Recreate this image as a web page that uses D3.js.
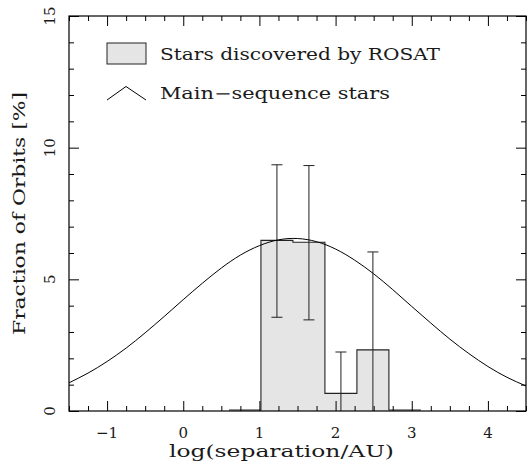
<!DOCTYPE html>
<html><head><meta charset="utf-8">
<script src="https://cdn.jsdelivr.net/npm/d3@7"></script>
<style>
html,body{margin:0;padding:0;background:#fff;}
text{font-family:"DejaVu Serif",serif;fill:#1a1a1a;}
</style></head>
<body>
<svg id="c" width="527" height="466"></svg>
<script>
// ---- data ----
const xMajorTicks = [-1, 0, 1, 2, 3, 4];
const yMajorTicks = [0, 5, 10, 15];
const binEdges = [0.60, 1.02, 1.44, 1.86, 2.28, 2.70, 3.12];
const binValues = [0, 6.48, 6.41, 0.67, 2.32, 0];
const errX = [1.23, 1.65, 2.07, 2.49];
const errHi = [9.35, 9.32, 2.24, 6.04];
const errLo = [3.56, 3.46, 0, 0];
const curveX = [-1.5,-1.25,-1,-0.75,-0.5,-0.25,0,0.25,0.5,0.75,1,1.25,1.5,1.75,2,2.25,2.5,2.75,3,3.25,3.5,3.75,4,4.25,4.5];
const curveY = [1.07,1.44,1.88,2.39,2.97,3.59,4.23,4.85,5.43,5.92,6.28,6.50,6.55,6.43,6.15,5.73,5.21,4.61,3.97,3.34,2.73,2.18,1.69,1.28,0.95];
const legendLabels = ["Stars discovered by ROSAT", "Main\u2212sequence stars"];
const xLabel = "log(separation/AU)";
const yLabel = "Fraction of Orbits [%]";

// ---- layout ----
const L = 69, R = 526, T = 16, B = 411;
const svg = d3.select("#c");
const x = d3.scaleLinear().domain([-1.5, 4.5]).range([L, R]);
const y = d3.scaleLinear().domain([0, 15]).range([B, T]);

// histogram fill
const bins = binValues.map((v, i) => ({x0: binEdges[i], x1: binEdges[i + 1], v}));
svg.append("g").selectAll("rect").data(bins.filter(d => d.v > 0)).join("rect")
  .attr("x", d => x(d.x0)).attr("width", d => x(d.x1) - x(d.x0))
  .attr("y", d => y(d.v)).attr("height", d => y(0) - y(d.v))
  .attr("fill", "#e5e5e5").attr("stroke", "none");
// histogram step outline
const step = [[binEdges[0], 0]];
bins.forEach(d => { step.push([d.x0, d.v]); step.push([d.x1, d.v]); });
step.push([binEdges[binEdges.length - 1], 0]);
svg.append("path").datum(step)
  .attr("d", d3.line().x(d => x(d[0])).y(d => Math.min(y(d[1]), y(0) - 1)))
  .attr("fill", "none").attr("stroke", "#222").attr("stroke-width", 1.1);

// error bars
const eg = svg.append("g").attr("stroke", "#222").attr("stroke-width", 1);
errX.forEach((ex, i) => {
  eg.append("line").attr("x1", x(ex)).attr("x2", x(ex)).attr("y1", y(errLo[i])).attr("y2", y(errHi[i]));
  eg.append("line").attr("x1", x(ex) - 5.5).attr("x2", x(ex) + 5.5).attr("y1", y(errHi[i])).attr("y2", y(errHi[i]));
  if (errLo[i] > 0)
    eg.append("line").attr("x1", x(ex) - 5.5).attr("x2", x(ex) + 5.5).attr("y1", y(errLo[i])).attr("y2", y(errLo[i]));
});

// main-sequence curve
const pts = curveX.map((cx, i) => [cx, curveY[i]]);
svg.append("path").datum(pts)
  .attr("d", d3.line().x(d => x(d[0])).y(d => y(d[1])).curve(d3.curveNatural))
  .attr("fill", "none").attr("stroke", "#000").attr("stroke-width", 1);

// frame
svg.append("rect").attr("x", L).attr("y", T).attr("width", R - L).attr("height", B - T)
  .attr("fill", "none").attr("stroke", "#000").attr("stroke-width", 1.2);

// ticks
const xMinor = d3.range(-1.5, 4.501, 0.25).filter(v => !xMajorTicks.includes(v));
const yMinor = d3.range(0, 15.01, 1).filter(v => !yMajorTicks.includes(v));
function ticks(axisFn, scale, vals, size, transform) {
  const g = svg.append("g").attr("transform", transform)
    .call(axisFn(scale).tickValues(vals).tickSizeInner(-size).tickSizeOuter(0).tickFormat(""));
  g.select(".domain").remove();
  g.selectAll("line").attr("stroke", "#000");
}
ticks(d3.axisBottom, x, xMajorTicks, 10, `translate(0,${B})`);
ticks(d3.axisBottom, x, xMinor, 5, `translate(0,${B})`);
ticks(d3.axisTop, x, xMajorTicks, 10, `translate(0,${T})`);
ticks(d3.axisTop, x, xMinor, 5, `translate(0,${T})`);
ticks(d3.axisLeft, y, yMajorTicks, 10, `translate(${L},0)`);
ticks(d3.axisLeft, y, yMinor, 5, `translate(${L},0)`);
ticks(d3.axisRight, y, yMajorTicks, 10, `translate(${R},0)`);
ticks(d3.axisRight, y, yMinor, 5, `translate(${R},0)`);

// tick labels
svg.append("g").selectAll("text").data(xMajorTicks).join("text")
  .attr("x", d => x(d)).attr("y", 437.5).attr("text-anchor", "middle")
  .attr("font-size", 15).text(d => d < 0 ? "\u2212" + Math.abs(d) : d);
svg.append("g").selectAll("text").data(yMajorTicks).join("text")
  .attr("transform", d => `translate(54.5,${y(d)}) rotate(-90)`)
  .attr("text-anchor", "middle").attr("font-size", 15).text(d => d);

// axis labels
svg.append("text").attr("x", 281.5).attr("y", 457).attr("text-anchor", "middle")
  .attr("font-size", 16).attr("textLength", 225).attr("lengthAdjust", "spacingAndGlyphs").text(xLabel);
svg.append("text").attr("transform", `translate(25,213.5) rotate(-90)`).attr("text-anchor", "middle")
  .attr("font-size", 16).attr("textLength", 243).attr("lengthAdjust", "spacingAndGlyphs").text(yLabel);

// legend
svg.append("rect").attr("x", 107).attr("y", 43).attr("width", 39).attr("height", 21)
  .attr("fill", "#e5e5e5").attr("stroke", "#222").attr("stroke-width", 1);
svg.append("path").attr("d", "M107,100L126,86.5L146,100").attr("fill", "none").attr("stroke", "#000");
svg.append("text").attr("x", 160).attr("y", 59.5).attr("font-size", 16)
  .attr("textLength", 280).attr("lengthAdjust", "spacingAndGlyphs").text(legendLabels[0]);
svg.append("text").attr("x", 160).attr("y", 98.5).attr("font-size", 16)
  .attr("textLength", 230).attr("lengthAdjust", "spacingAndGlyphs").text(legendLabels[1]);
</script>
</body></html>
